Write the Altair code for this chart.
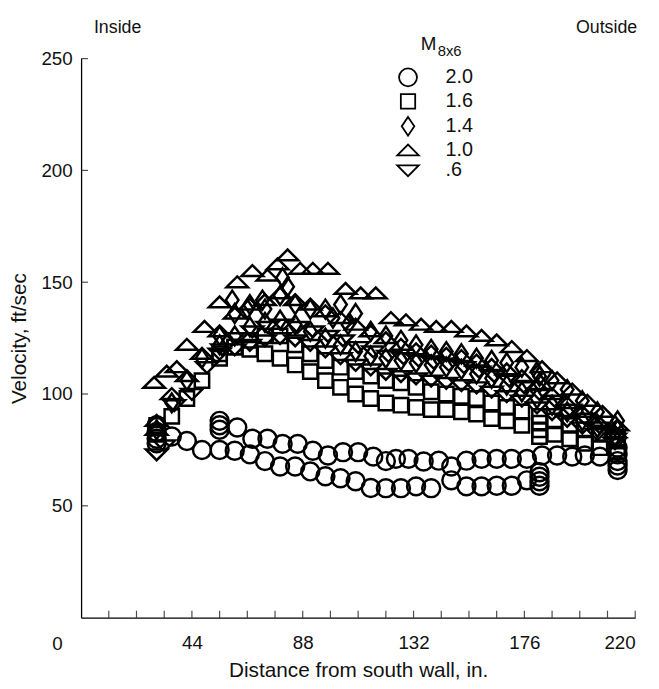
import altair as alt
import pandas as pd

# ---------------- data ----------------
mach_order = ["2.0", "1.6", "1.4", "1.0", ".6"]

x_m20 = [30, 30, 30, 30, 36, 42, 48, 55, 61, 67, 73, 79, 85, 91, 97, 103, 109, 115, 121, 127, 133, 139, 147, 153, 159, 165, 171, 177, 182, 182, 182, 182,
         55, 55, 55, 62, 68, 74, 80, 86, 92, 98, 104, 110, 116, 121, 125, 130, 136, 142, 147, 153, 159, 165, 171, 177, 183, 189, 195, 200, 206, 213, 213, 213, 213, 213]
y_m20 = [78, 80, 83, 86, 81, 79, 75, 75, 74.6, 73, 70, 67.6, 67.6, 65.4, 63.2, 62.3, 61, 58, 57.9, 57.9, 58.7, 57.9, 61.4, 58.7, 58.7, 59, 59, 61.4, 59, 61, 63, 65,
         84, 86, 88, 85, 80, 80, 77.7, 77.7, 74.6, 72.5, 74, 74, 72, 70, 71, 71, 69.8, 70.2, 67.6, 70.2, 71, 71, 71, 71, 72.5, 72.5, 72, 72.5, 72, 66, 68, 70, 73, 76]

x_m16 = [30, 30, 36, 42, 48, 55, 61, 67, 73, 79, 85, 91, 97, 103, 109, 115, 121, 127, 133, 139, 145, 151, 157, 163, 169, 175, 182, 188, 194, 200, 206, 213,
         55, 61, 67, 73, 79, 85, 91, 97, 103, 109, 115, 121, 127, 133, 139, 145, 151, 157, 163, 169, 175, 182, 182, 182, 188, 194, 200, 206, 213, 213]
y_m16 = [82, 86, 90, 98, 106, 116, 121, 124, 126, 126, 122, 118, 115, 112, 110, 108, 106, 105, 103, 101, 100, 99, 98, 96, 94, 92, 90, 88, 86, 84, 82, 80,
         118, 121, 120, 118, 116, 113, 110, 106, 103, 100, 98, 96, 95, 94, 93, 93, 92, 91, 89, 88, 86, 84, 81, 87, 82, 80, 78, 76, 74, 79]

x_m14 = [30, 36, 42, 48, 55, 61, 67, 73, 79, 82, 85, 91, 97, 103, 109, 115, 121, 127, 133, 139, 145, 151, 157, 163, 169, 175, 181, 187, 193, 199, 205, 212,
         55, 61, 67, 73, 79, 85, 91, 97, 103, 109, 115, 121, 127, 133, 139, 145, 151, 157, 163, 169, 175, 181, 182, 182, 187, 193, 199, 205, 212, 213, 213,
         60, 66, 72, 80, 100, 106]
y_m14 = [84, 96, 106, 116, 126, 136, 140, 138, 144, 148, 140, 138, 138, 140, 136, 128, 126, 124, 122, 120, 119, 118, 116, 115, 114, 112, 110, 106, 102, 97, 92, 86,
         122, 126, 130, 132, 133, 131, 128, 125, 122, 119, 117, 116, 115, 114, 113, 112, 111, 109, 107, 104, 101, 98, 105, 108, 95, 92, 88, 85, 80, 84, 88,
         142, 138, 142, 152, 134, 131]

x_m10 = [30, 29, 34, 38, 42, 49, 55, 62, 68, 74, 78, 82, 87, 92, 98, 105, 111, 117, 123, 129, 135, 141, 147, 153, 159, 165, 171, 177, 183, 189, 195, 201, 207, 213,
         30, 36, 42, 48, 55, 61, 67, 73, 79, 85, 91, 97, 103, 109, 115, 121, 127, 133, 139, 145, 151, 157, 163, 169, 175, 181, 187, 193, 199, 205, 212]
y_m10 = [88, 105, 110, 112, 122, 130, 141, 150, 155, 153, 158, 162, 156, 156, 156, 147, 145, 145, 134, 133, 131, 130, 130, 128, 126, 124, 121, 117, 112, 107, 102, 97, 92, 86,
         84, 100, 108, 118, 128, 136, 140, 142, 145, 142, 140, 137, 134, 131, 128, 125, 122, 120, 119, 118, 117, 115, 113, 111, 108, 104, 100, 96, 92, 88, 83]

x_m06 = [30, 33, 37, 44, 50, 56, 62, 68, 74, 80, 86, 92, 98, 104, 110, 116, 122, 128, 134, 140, 146, 152, 158, 164, 170, 176, 182, 188, 194, 200, 206, 212,
         55, 61, 67, 73, 79, 85, 91, 97, 103, 109, 115, 121, 127, 133, 139, 145, 151, 157, 163, 169, 175, 181, 187, 193, 199, 205, 212]
y_m06 = [73, 77, 95, 100, 112, 120, 125, 128, 130, 131, 130, 128, 126, 124, 121, 119, 117, 116, 115, 114, 113, 112, 110, 108, 106, 103, 100, 97, 93, 89, 85, 80,
         118, 120, 122, 124, 125, 124, 122, 119, 116, 113, 111, 109, 108, 107, 106, 105, 104, 103, 101, 99, 97, 94, 91, 88, 85, 82, 78]

x_ticks = [11 * i for i in range(1, 21)]
x_labels = [44, 88, 132, 176, 220]
y_labels = [50, 100, 150, 200, 250]

# ---------------- build table ----------------
frames = []
for m, xs, ys in [("2.0", x_m20, y_m20), ("1.6", x_m16, y_m16), ("1.4", x_m14, y_m14),
                  ("1.0", x_m10, y_m10), (".6", x_m06, y_m06)]:
    frames.append(pd.DataFrame({"dist": xs, "vel": ys, "M": m}))
df = pd.concat(frames, ignore_index=True)

FONT = "Liberation Sans"
INK = "#111"
shape_paths = [
    "circle",
    "M-0.8,-0.8L0.8,-0.8L0.8,0.8L-0.8,0.8Z",
    "M0,-1.05L0.7,0L0,1.05L-0.7,0Z",
    "M-1.2,0.55L1.2,0.55L0,-0.65Z",
    "M-1.2,-0.55L1.2,-0.55L0,0.65Z",
]

xscale = alt.Scale(domain=[0, 220], nice=False, zero=False)
yscale = alt.Scale(domain=[0, 250], nice=False, zero=False)

points = alt.Chart(df).mark_point(filled=False, color="black", strokeWidth=2.5, opacity=1, size=330).encode(
    x=alt.X("dist:Q", scale=xscale,
            axis=alt.Axis(values=x_labels, title="Distance from south wall, in.", ticks=False, tickSize=0,
                          labelPadding=16, titlePadding=8, grid=False)),
    y=alt.Y("vel:Q", scale=yscale,
            axis=alt.Axis(values=y_labels, title="Velocity, ft/sec", ticks=False, tickSize=0,
                          labelPadding=9, titlePadding=12, grid=False)),
    shape=alt.Shape("M:N", scale=alt.Scale(domain=mach_order, range=shape_paths),
                    legend=alt.Legend(title=None, orient="none", legendX=321, legendY=9,
                                      symbolSize=330, symbolStrokeWidth=1.8, symbolStrokeColor="black",
                                      symbolFillColor="transparent", labelFontSize=20, labelFont=FONT,
                                      labelColor=INK, labelOffset=28, rowPadding=0.3)),
)

xt = alt.Chart(pd.DataFrame({"t": x_ticks})).mark_tick(orient="vertical", size=7, thickness=1.2, color="black").encode(
    x=alt.X("t:Q", scale=xscale), y=alt.datum(1.55))
yt = alt.Chart(pd.DataFrame({"t": y_labels})).mark_tick(orient="horizontal", size=7, thickness=1.2, color="black").encode(
    y=alt.Y("t:Q", scale=yscale), x=alt.datum(1.37))

zero = alt.Chart(pd.DataFrame({"l": ["0"]})).mark_text(fontSize=19, font=FONT, color=INK, dx=-24, dy=27).encode(
    x=alt.datum(0), y=alt.datum(0), text="l:N")

def label(txt, x, y, size=18, align="left"):
    return alt.Chart(pd.DataFrame({"l": [txt]})).mark_text(fontSize=size, font=FONT, color=INK, align=align,
                                                          baseline="middle").encode(
        x=alt.value(x), y=alt.value(y), text="l:N")

chart = alt.layer(
    points, xt, yt, zero,
    label("Inside", 13, -31),
    label("Outside", 563, -31, align="right"),
    label("M", 344, -15, size=19),
    label("8x6", 361, -8, size=15),
).properties(
    width=561, height=566,
    padding={"left": 74, "top": 47, "right": 16, "bottom": 66},
    autosize=alt.AutoSizeParams(type="none"),
).configure_view(stroke=None).configure_axis(
    domainColor="black", domainWidth=1.3, labelFont=FONT, labelFontSize=19, labelColor=INK,
    titleFont=FONT, titleFontSize=21, titleColor=INK, titleFontWeight="normal",
)

chart.save("out.html", embed_options={"renderer": "svg", "actions": False})
